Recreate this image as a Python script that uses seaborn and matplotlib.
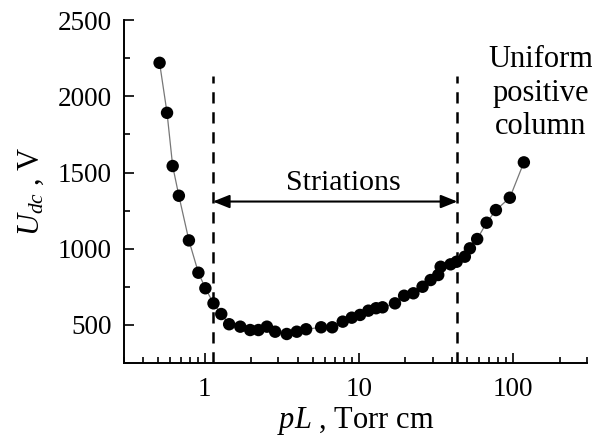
import matplotlib
matplotlib.use("Agg")
import matplotlib.pyplot as plt
from matplotlib.ticker import MultipleLocator, LogLocator, NullFormatter, FixedLocator, FixedFormatter
import seaborn as sns
import pandas as pd

# pL (Torr cm) and discharge voltage U_dc (V)
pl = [0.51, 0.57, 0.62, 0.68, 0.79, 0.91, 1.01, 1.14, 1.28, 1.44,
      1.70, 1.97, 2.23, 2.53, 2.86, 3.40, 3.95, 4.54, 5.68, 6.70,
      7.84, 8.97, 10.15, 11.5, 12.9, 14.2, 17.1, 19.6, 22.5, 25.8,
      29.1, 32.6, 33.8, 39.2, 42.9, 48.5, 52.3, 58.3, 67.1, 77.1,
      94.9, 117]
udc = [2220, 1892, 1543, 1348, 1055, 843, 741, 642, 572, 505,
       489, 467, 467, 489, 456, 441, 456, 472, 485, 485,
       522, 548, 566, 594, 610, 616, 642, 692, 708, 751,
       795, 828, 882, 898, 915, 948, 1003, 1064, 1171, 1254,
       1335, 1567]

boundaries = [1.13, 43.4]
regime_labels = ["Striations", "Uniform\npositive\ncolumn"]

df = pd.DataFrame({"pL": pl, "Udc": udc})

sns.set_theme(style="ticks")
plt.rcParams["font.family"] = ["Liberation Serif", "DejaVu Serif"]
plt.rcParams["mathtext.fontset"] = "custom"
plt.rcParams["mathtext.rm"] = "Liberation Serif"
plt.rcParams["mathtext.it"] = "Liberation Serif:italic"
plt.rcParams["text.color"] = "black"
plt.rcParams["axes.labelcolor"] = "black"

fig = plt.figure(figsize=(5.92, 4.38), dpi=100)
ax = fig.add_axes([0.2095, 0.171, 0.782, 0.783])

sns.lineplot(data=df, x="pL", y="Udc", color="#777777", linewidth=0.9, ax=ax)
sns.scatterplot(data=df, x="pL", y="Udc", color="black", s=80,
                edgecolor="none", ax=ax, zorder=3)

ax.set_xscale("log")
ax.set_xlim(0.3, 300)
ax.set_ylim(250, 2500)

# regime boundaries
ax.vlines(boundaries, 250, 2135, colors="black", linestyles=(0, (4.5, 3.5)),
          linewidth=1.8)
ax.annotate("", xy=(boundaries[0], 1310), xytext=(boundaries[1], 1310),
            arrowprops=dict(arrowstyle="<|-|>,head_length=0.5,head_width=0.2",
                            color="black", lw=1.5, shrinkA=0, shrinkB=0,
                            mutation_scale=20))
ax.text(7.9, 1430, regime_labels[0], ha="center", va="center", fontsize=21.5,
        bbox=dict(facecolor="white", edgecolor="none", pad=2))
ax.text(150, 2020, regime_labels[1], ha="center", va="center", fontsize=22,
        linespacing=1.2)

ax.xaxis.set_major_locator(FixedLocator([1, 10, 100]))
ax.xaxis.set_major_formatter(FixedFormatter(["1", "10", "100"]))
ax.xaxis.set_minor_locator(LogLocator(base=10, subs=range(2, 10), numticks=20))
ax.xaxis.set_minor_formatter(NullFormatter())
ax.yaxis.set_major_locator(MultipleLocator(500))
ax.yaxis.set_minor_locator(MultipleLocator(250))

ax.tick_params(which="both", direction="in", width=1.2, labelsize=19.5,
               colors="black")
ax.tick_params(which="major", length=7)
ax.tick_params(which="minor", length=4)
ax.tick_params(axis="y", pad=9)
ax.tick_params(axis="x", pad=10)

for side in ["top", "right"]:
    ax.spines[side].set_visible(False)
for side in ["left", "bottom"]:
    ax.spines[side].set_linewidth(1.4)
    ax.spines[side].set_color("black")

ax.set_xlabel(r"$pL$ , Torr cm", fontsize=22, labelpad=2)
ax.set_ylabel(r"$U_{dc}$ , V", fontsize=22, labelpad=8)

fig.savefig("out.png", dpi=100, facecolor="white")
